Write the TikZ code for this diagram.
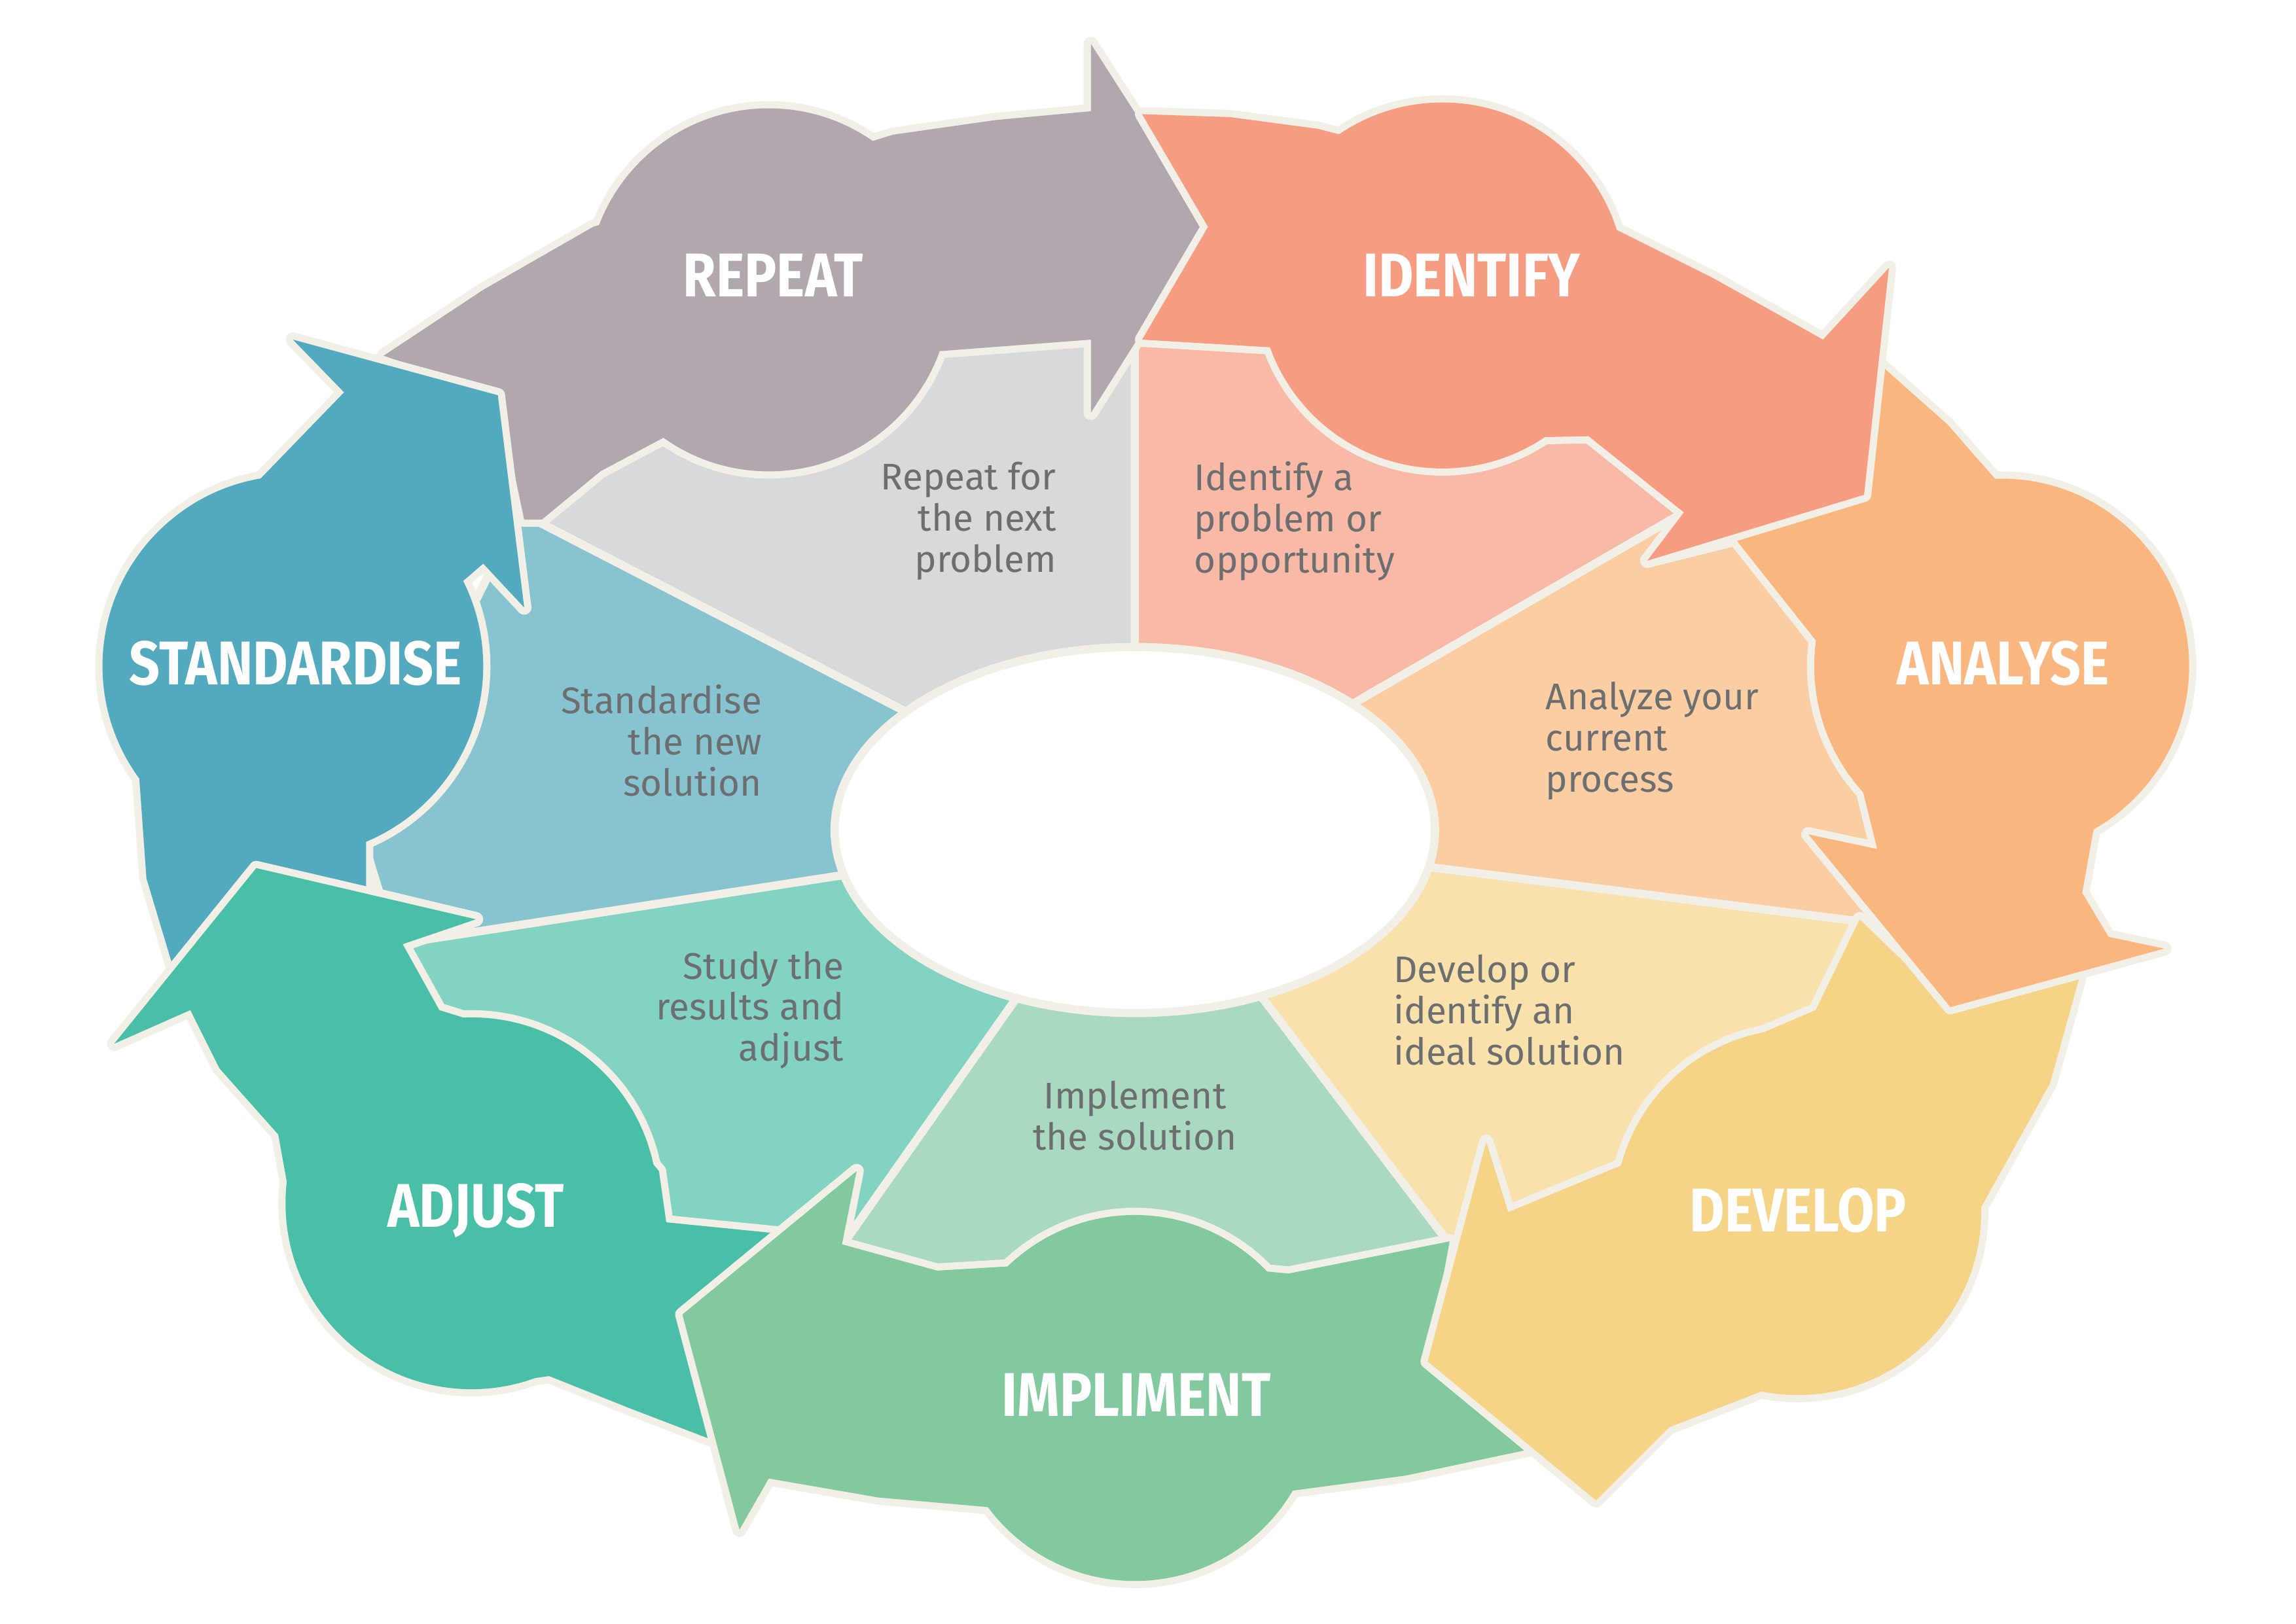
\documentclass[tikz,border=0pt]{standalone}
\usepackage{fontspec}
\setmainfont{Fira Sans}
\newfontfamily\labfont[FakeStretch=0.87]{Fira Sans}
\definecolor{cream}{HTML}{F2EFE6}
\definecolor{txt}{HTML}{6D6E70}
\definecolor{cRep}{HTML}{B1A7AF}\definecolor{iRep}{HTML}{D8D9DA}
\definecolor{cIde}{HTML}{F69D81}\definecolor{iIde}{HTML}{F8B9A6}
\definecolor{cAna}{HTML}{F9B67E}\definecolor{iAna}{HTML}{FBCDA3}
\definecolor{cDev}{HTML}{F5D387}\definecolor{iDev}{HTML}{F8E1AA}
\definecolor{cImp}{HTML}{83C9A0}\definecolor{iImp}{HTML}{A9D9C0}
\definecolor{cAdj}{HTML}{4ABFA8}\definecolor{iAdj}{HTML}{83D3C3}
\definecolor{cSta}{HTML}{53AABF}\definecolor{iSta}{HTML}{88C3D0}
\tikzset{
 inner/.style={draw=cream,line width=1.6pt,line join=miter},
 outl/.style={draw=cream,line width=2.8pt,line join=round},
 lab/.style={text=white,font=\labfont\bfseries\fontsize{12}{14}\selectfont,inner sep=0pt},
 desc/.style={text=txt,font=\fontsize{7.2}{8}\selectfont,inner sep=0pt,align=#1},
}
\newcommand\arrowshape[4]{% color, polygon, center, radius
 \path[outl] #2; \path[outl] #3 circle[radius=#4];
 \fill[#1] #2; \fill[#1] #3 circle[radius=#4];}
\begin{document}
\begin{tikzpicture}[x=0.01cm,y=-0.01cm]
\useasboundingbox (0,0) rectangle (1568,1109);
\fill[white] (0,0) rectangle (1568,1109);
\coordinate (C) at (775,567);
% inner segments
\path[inner,fill=iRep] (C) -- (355,350) -- (450,260) -- (640,225) -- (775,220) -- cycle;
\path[inner,fill=iIde] (C) -- (775,220) -- (900,225) -- (1100,280) -- (1162,343) -- cycle;
\path[inner,fill=iAna] (C) -- (1162,343) -- (1260,420) -- (1290,580) -- (1290,632) -- cycle;
\path[inner,fill=iDev] (C) -- (1290,632) -- (1250,700) -- (1100,820) -- (990,850) -- cycle;
\path[inner,fill=iImp] (C) -- (990,850) -- (870,880) -- (680,880) -- (570,858) -- cycle;
\path[inner,fill=iAdj] (C) -- (570,858) -- (450,850) -- (300,700) -- (270,645) -- cycle;
\path[inner,fill=iSta] (C) -- (270,645) -- (250,580) -- (320,420) -- (355,350) -- cycle;
\path[inner,fill=white] (C) ellipse[x radius=205,y radius=125];
% arrows
\arrowshape{cRep}{(262,243) -- (330,198) -- (405,155) -- (610,92) -- (680,82) -- (745,76) -- (745,30) -- (825,155) -- (745,282) -- (745,232) -- (640,240) -- (455,298) -- (410,322) -- (370,355) -- (358,355) -- (340,270) -- cycle}{(525,198)}{124}
\arrowshape{cSta}{(118,660) -- (100,600) -- (95,530) -- (120,400) -- (175,330) -- (235,268) -- (200,232) -- (340,270) -- (358,415) -- (330,385) -- (315,398) -- (320,455) -- (250,575) -- (250,610) -- (325,628) -- (175,593) -- cycle}{(200,455)}{130}
\arrowshape{cAdj}{(535,843) -- (468,898) -- (490,985) -- (430,962) -- (375,940) -- (320,948) -- (200,830) -- (190,775) -- (150,730) -- (130,690) -- (78,713) -- (175,593) -- (325,628) -- (275,645) -- (300,690) -- (380,715) -- (450,800) -- (455,835) -- cycle}{(322,822)}{127}
\arrowshape{cImp}{(990,848) -- (975,930) -- (1045,990) -- (960,1008) -- (870,1020) -- (680,1030) -- (600,1023) -- (525,1010) -- (505,1045) -- (466,898) -- (585,800) -- (575,850) -- (640,868) -- (775,860) -- (880,870) -- cycle}{(775,955)}{125}
\arrowshape{cDev}{(1270,628) -- (1332,688) -- (1420,668) -- (1400,740) -- (1350,830) -- (1230,940) -- (1140,975) -- (1090,1025) -- (975,930) -- (1015,780) -- (1030,828) -- (1110,795) -- (1170,720) -- (1240,690) -- cycle}{(1228,828)}{125}
\arrowshape{cAna}{(1285,250) -- (1330,290) -- (1365,330) -- (1440,500) -- (1430,565) -- (1422,610) -- (1440,640) -- (1478,648) -- (1332,688) -- (1235,570) -- (1282,580) -- (1250,450) -- (1185,368) -- (1125,383) -- (1273,338) -- cycle}{(1367,455)}{128}
\arrowshape{cIde}{(780,78) -- (840,80) -- (900,88) -- (985,110) -- (1090,150) -- (1170,190) -- (1245,232) -- (1290,183) -- (1273,338) -- (1125,383) -- (1150,350) -- (1085,298) -- (985,300) -- (880,238) -- (780,232) -- (825,155) -- cycle}{(985,195)}{125}
% labels
\node[lab] (lRep) at (528,188) {REPEAT};
\node[lab] (lIde) at (1005,188) {IDENTIFY};
\node[lab] (lAna) at (1368,453) {ANALYSE};
\node[lab] (lDev) at (1228,827) {DEVELOP};
\node[lab] (lImp) at (776,953) {IMPLIMENT};
\node[lab] (lAdj) at (325,827) {ADJUST};
\node[lab] (lSta) at (202,453) {STANDARDISE};
\node[desc=right,anchor=east] (dRep) at (722,356) {Repeat for\\the next\\problem};
\node[desc=left,anchor=west] (dIde) at (815,356) {Identify a\\problem or\\opportunity};
\node[desc=left,anchor=west] (dAna) at (1055,506) {Analyze your\\current\\process};
\node[desc=left,anchor=west] (dDev) at (951,690) {Develop or\\identify an\\ideal solution};
\node[desc=center] (dImp) at (775,762) {Implement\\the solution};
\node[desc=right,anchor=east] (dAdj) at (577,690) {Study the\\results and\\adjust};
\node[desc=right,anchor=east] (dSta) at (521,506) {Standardise\\the new\\solution};
\end{tikzpicture}
\end{document}
